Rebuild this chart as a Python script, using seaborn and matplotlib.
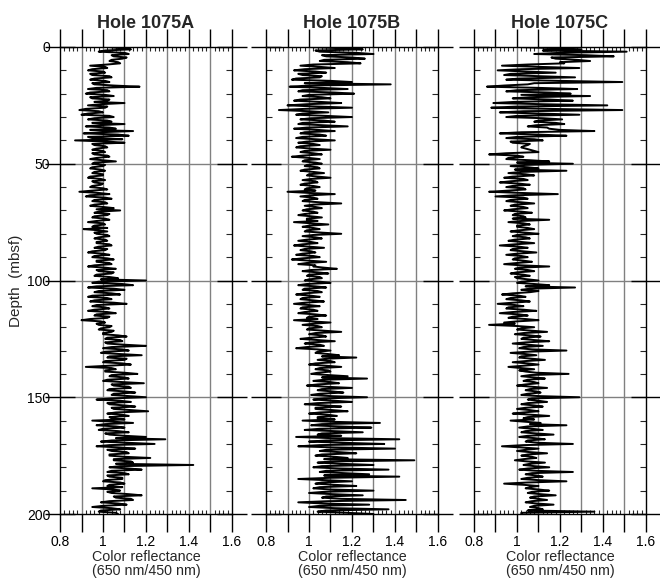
import numpy as np
import pandas as pd
import matplotlib
matplotlib.use("Agg")
import matplotlib.pyplot as plt
import seaborn as sns

# Depth samples (mbsf), one reading every half metre from 0 to 200 m
depth = [i * 0.5 for i in range(401)]

# Color reflectance ratio (650 nm / 450 nm), Hole 1075A; one row = 5 m
hole_a = [
    1.02, 1.08, 1.13, 1.01, 0.98, 1.10, 1.12, 1.04, 1.05, 1.11,
    1.09, 1.04, 1.03, 1.07, 1.08, 1.02, 0.94, 1.01, 1.02, 0.95,
    0.93, 1.00, 1.01, 0.94, 0.95, 1.03, 1.04, 0.96, 0.94, 1.01,
    1.03, 0.95, 0.96, 1.05, 1.17, 0.97, 0.93, 1.02, 1.03, 0.94,
    0.92, 1.01, 1.05, 0.94, 0.95, 1.03, 1.02, 0.96, 1.10, 0.99,
    0.93, 1.02, 1.01, 0.92, 0.89, 0.98, 1.00, 0.93, 0.90, 1.03,
    1.05, 0.96, 0.93, 1.02, 1.04, 0.95, 1.10, 0.98, 0.92, 1.03,
    1.06, 0.94, 1.14, 0.99, 0.91, 1.07, 1.12, 0.93, 0.95, 1.09,
    0.87, 1.02, 1.10, 0.95, 0.96, 1.01, 1.02, 0.97, 0.95, 1.00,
    1.01, 0.95, 0.96, 1.02, 1.03, 0.97, 0.94, 1.00, 1.06, 0.96,
    0.95, 1.01, 1.00, 0.95, 0.94, 0.99, 1.01, 0.96, 0.95, 1.00,
    1.00, 0.94, 0.93, 0.99, 1.01, 0.95, 0.96, 1.00, 0.99, 0.95,
    0.94, 1.00, 1.02, 0.95, 0.89, 0.98, 1.03, 0.94, 0.92, 1.01,
    1.04, 0.96, 0.95, 1.01, 1.02, 0.96, 0.94, 1.00, 1.05, 0.97,
    1.08, 0.98, 0.96, 1.03, 1.02, 0.96, 0.95, 1.01, 1.03, 0.97,
    0.93, 1.00, 1.01, 0.96, 0.95, 1.02, 0.91, 0.98, 1.02, 0.96,
    0.97, 1.02, 1.03, 0.98, 0.96, 1.01, 1.02, 0.97, 0.97, 1.03,
    1.04, 0.98, 0.96, 1.02, 1.01, 0.95, 0.93, 1.00, 1.03, 0.96,
    0.95, 1.02, 1.05, 0.97, 0.97, 1.03, 1.04, 0.96, 0.93, 1.01,
    1.06, 0.97, 0.98, 1.05, 1.04, 0.97, 0.96, 1.03, 1.07, 0.99,
    1.20, 0.98, 0.95, 1.09, 1.14, 0.97, 0.93, 1.05, 1.10, 0.98,
    0.96, 1.04, 1.08, 0.95, 0.93, 1.02, 1.04, 0.96, 0.94, 1.05,
    1.11, 0.97, 0.95, 1.01, 1.03, 0.96, 0.93, 1.02, 1.06, 0.97,
    0.96, 1.03, 1.02, 0.94, 0.90, 0.99, 1.01, 0.97, 0.98, 1.04,
    1.03, 0.99, 0.98, 1.05, 1.04, 1.00, 1.00, 1.07, 1.11, 1.02,
    1.01, 1.08, 1.09, 1.01, 1.02, 1.10, 1.20, 1.04, 1.00, 1.09,
    1.12, 1.01, 0.99, 1.08, 1.18, 1.03, 1.02, 1.11, 1.10, 1.01,
    1.00, 1.09, 1.13, 1.02, 0.92, 1.04, 1.06, 1.01, 1.01, 1.10,
    1.16, 1.04, 1.03, 1.10, 1.12, 1.02, 1.00, 1.09, 1.19, 1.04,
    1.05, 1.12, 1.13, 1.03, 1.02, 1.10, 1.15, 1.05, 1.04, 1.12,
    1.20, 1.04, 0.97, 1.08, 1.13, 1.02, 1.03, 1.10, 1.15, 1.04,
    1.05, 1.13, 1.21, 1.06, 1.02, 1.09, 1.12, 1.03, 1.04, 1.10,
    0.95, 1.05, 1.14, 1.01, 0.97, 1.06, 1.10, 1.00, 0.98, 1.07,
    1.12, 1.01, 1.03, 1.10, 1.20, 1.06, 1.29, 1.04, 0.99, 1.12,
    1.24, 1.03, 0.97, 1.08, 1.15, 1.02, 1.04, 1.11, 1.12, 1.03,
    1.03, 1.10, 1.22, 1.05, 1.05, 1.13, 1.14, 1.06, 1.42, 1.08,
    1.03, 1.12, 1.18, 1.04, 1.02, 1.10, 1.12, 1.02, 1.03, 1.09,
    1.09, 1.01, 1.00, 1.08, 1.10, 1.03, 1.02, 1.09, 0.95, 1.05,
    1.08, 1.02, 1.04, 1.12, 1.18, 1.05, 1.06, 1.13, 1.14, 1.03,
    0.99, 1.07, 1.11, 1.00, 0.95, 1.04, 1.08, 0.99, 0.98, 1.06,
    1.07,
]

# Hole 1075B
hole_b = [
    1.00, 1.14, 1.25, 1.03, 1.05, 1.22, 1.30, 1.06, 1.08, 1.20,
    1.26, 1.07, 1.05, 1.18, 1.24, 1.02, 0.96, 1.05, 1.12, 0.98,
    0.93, 1.03, 1.08, 0.95, 0.97, 1.06, 1.05, 0.94, 0.92, 1.10,
    1.20, 0.98, 1.38, 1.00, 0.91, 1.06, 1.18, 0.97, 0.95, 1.12,
    1.21, 1.00, 0.97, 1.06, 1.10, 0.96, 0.93, 1.05, 1.15, 0.99,
    0.90, 1.04, 1.20, 0.98, 0.86, 1.00, 1.09, 0.97, 0.94, 1.08,
    1.20, 1.01, 0.96, 1.07, 1.12, 0.97, 0.95, 1.06, 1.18, 0.99,
    0.93, 1.04, 1.12, 0.98, 0.96, 1.05, 1.08, 0.97, 0.94, 1.03,
    1.12, 0.99, 0.95, 1.02, 1.05, 0.96, 0.94, 1.01, 1.10, 0.98,
    0.96, 1.02, 1.06, 0.97, 0.92, 1.00, 1.05, 0.98, 0.97, 1.03,
    1.06, 0.99, 0.98, 1.04, 1.05, 0.98, 0.96, 1.02, 1.07, 1.00,
    0.99, 1.04, 1.10, 1.01, 0.97, 1.03, 1.04, 0.98, 0.96, 1.02,
    1.05, 0.99, 0.98, 1.03, 0.90, 1.00, 1.12, 1.01, 0.96, 1.02,
    1.04, 0.98, 0.97, 1.05, 1.15, 1.02, 0.98, 1.03, 1.06, 0.99,
    0.97, 1.02, 1.04, 0.98, 0.95, 1.01, 1.06, 0.99, 0.99, 1.04,
    0.93, 1.01, 1.09, 1.00, 0.97, 1.02, 1.05, 0.99, 0.98, 1.06,
    1.15, 1.02, 0.97, 1.03, 1.06, 0.99, 0.95, 1.01, 1.04, 0.97,
    0.93, 1.00, 1.07, 0.98, 0.96, 1.01, 1.03, 0.97, 0.94, 1.02,
    1.05, 0.97, 0.92, 1.00, 1.08, 0.99, 0.95, 1.03, 1.02, 1.07,
    1.13, 1.01, 0.97, 1.04, 1.09, 1.00, 0.99, 1.05, 1.06, 1.00,
    0.98, 1.05, 1.10, 0.99, 0.95, 1.03, 1.08, 0.98, 0.97, 1.04,
    1.06, 0.98, 0.94, 1.01, 1.05, 0.97, 0.96, 1.02, 1.07, 0.98,
    0.93, 1.00, 1.05, 0.97, 0.96, 1.02, 1.04, 0.98, 0.95, 1.03,
    1.08, 1.00, 0.99, 1.04, 0.93, 1.01, 1.10, 1.02, 0.97, 1.04,
    1.06, 1.00, 0.99, 1.07, 1.15, 1.03, 1.00, 1.06, 1.08, 1.01,
    0.96, 1.04, 1.12, 1.01, 0.98, 1.05, 1.07, 0.99, 0.94, 1.04,
    1.10, 1.04, 1.03, 1.09, 1.14, 1.06, 1.22, 1.08, 1.04, 1.10,
    1.12, 1.03, 1.00, 1.08, 1.15, 1.05, 1.03, 1.09, 1.10, 1.04,
    1.01, 1.09, 1.18, 1.06, 1.27, 1.07, 1.02, 1.10, 1.14, 1.04,
    0.99, 1.08, 1.20, 1.06, 1.04, 1.11, 1.16, 1.05, 1.01, 1.10,
    1.27, 1.07, 1.02, 1.12, 1.20, 1.04, 0.98, 1.08, 1.15, 1.03,
    1.03, 1.11, 1.18, 1.05, 1.00, 1.09, 1.13, 1.04, 1.04, 1.12,
    0.97, 1.10, 1.33, 1.06, 1.01, 1.14, 1.29, 1.05, 0.98, 1.12,
    1.25, 1.06, 1.04, 1.15, 0.94, 1.10, 1.42, 1.08, 1.00, 1.16,
    1.35, 1.05, 0.95, 1.12, 1.40, 1.08, 1.05, 1.14, 1.22, 1.06,
    1.03, 1.12, 1.18, 1.07, 1.49, 1.10, 1.04, 1.15, 1.30, 1.06,
    1.02, 1.14, 1.37, 1.08, 1.05, 1.16, 1.28, 1.07, 1.42, 1.10,
    0.95, 1.08, 1.20, 1.06, 1.03, 1.12, 1.22, 1.05, 1.02, 1.10,
    1.30, 1.07, 1.00, 1.11, 1.25, 1.08, 1.06, 1.15, 1.45, 1.09,
    0.95, 1.07, 1.28, 1.05, 1.00, 1.12, 1.37, 1.08, 1.04, 1.18,
    1.30,
]

# Hole 1075C
hole_c = [
    1.00, 1.18, 1.30, 1.12, 1.51, 1.20, 1.08, 1.32, 1.45, 1.16,
    1.18, 1.28, 1.34, 1.20, 1.22, 1.05, 0.93, 1.10, 1.29, 1.02,
    0.91, 1.05, 1.18, 0.97, 0.94, 1.10, 1.27, 1.01, 0.95, 1.20,
    1.49, 1.08, 1.05, 0.94, 0.86, 1.10, 1.28, 1.00, 0.95, 1.15,
    1.25, 1.02, 1.34, 1.06, 0.98, 1.15, 1.26, 0.99, 0.89, 1.12,
    1.42, 1.00, 0.88, 1.15, 1.49, 1.03, 0.92, 1.10, 1.29, 1.00,
    0.95, 1.12, 1.21, 1.10, 1.08, 1.18, 1.22, 1.09, 1.05, 1.14,
    1.15, 1.20, 1.36, 1.02, 0.92, 1.10, 1.23, 1.00, 0.95, 1.08,
    1.12, 0.97, 0.98, 1.06, 1.05, 1.03, 1.02, 1.04, 1.06, 1.08,
    1.10, 0.95, 0.87, 1.00, 1.03, 0.96, 0.95, 1.06, 1.15, 1.00,
    1.26, 1.04, 0.97, 1.05, 1.10, 0.99, 1.23, 1.02, 0.96, 1.04,
    1.08, 0.98, 0.94, 1.03, 1.05, 0.97, 0.92, 1.01, 1.06, 0.98,
    0.95, 1.03, 1.04, 0.96, 0.87, 1.02, 1.19, 0.99, 0.90, 1.03,
    1.05, 0.97, 0.95, 1.02, 1.08, 0.99, 0.97, 1.03, 1.05, 0.98,
    0.94, 1.02, 1.07, 0.99, 0.98, 1.03, 1.04, 0.98, 1.15, 1.02,
    0.96, 1.03, 1.06, 1.00, 1.00, 1.05, 1.08, 1.01, 0.97, 1.04,
    1.10, 1.00, 0.98, 1.04, 1.06, 0.99, 0.96, 1.02, 1.08, 0.99,
    0.92, 1.01, 1.05, 0.98, 0.97, 1.03, 1.09, 1.00, 0.95, 1.02,
    1.05, 0.99, 0.98, 1.03, 1.07, 1.00, 0.94, 1.02, 1.15, 1.01,
    0.99, 1.05, 1.08, 1.00, 0.97, 1.03, 1.06, 0.99, 1.00, 1.05,
    1.10, 1.02, 1.00, 1.08, 1.15, 1.04, 1.27, 1.06, 1.02, 1.10,
    1.06, 0.98, 0.93, 1.01, 1.04, 0.97, 0.95, 1.02, 1.06, 0.98,
    0.91, 0.99, 1.03, 0.96, 0.95, 1.03, 1.09, 0.98, 0.92, 1.01,
    1.05, 0.98, 0.96, 1.04, 1.10, 1.00, 0.94, 0.99, 0.87, 1.00,
    1.08, 1.02, 1.00, 1.07, 1.14, 1.03, 0.99, 1.06, 1.11, 1.03,
    1.02, 1.08, 1.15, 1.04, 0.98, 1.05, 1.12, 1.03, 1.01, 1.07,
    1.23, 1.05, 0.97, 1.04, 1.09, 1.02, 1.01, 1.07, 1.13, 1.04,
    0.98, 1.05, 1.10, 1.03, 0.96, 1.02, 1.08, 1.01, 1.04, 1.09,
    1.24, 1.06, 1.02, 1.08, 1.13, 1.05, 1.03, 1.08, 1.10, 1.04,
    1.00, 1.07, 1.14, 1.06, 1.04, 1.09, 1.11, 1.05, 1.02, 1.10,
    1.29, 1.07, 1.05, 1.10, 1.14, 1.05, 1.02, 1.08, 1.12, 1.04,
    1.00, 1.06, 1.10, 1.03, 0.98, 1.07, 1.15, 1.05, 1.03, 1.08,
    0.97, 1.04, 1.11, 1.06, 1.23, 1.05, 1.01, 1.07, 1.12, 1.04,
    1.02, 1.09, 1.17, 1.05, 1.01, 1.08, 1.13, 1.05, 1.04, 1.10,
    1.26, 1.03, 0.93, 1.02, 1.10, 1.04, 1.00, 1.06, 1.14, 1.05,
    1.02, 1.07, 1.09, 1.03, 0.99, 1.05, 1.13, 1.06, 1.03, 1.08,
    1.15, 1.05, 1.01, 1.09, 1.26, 1.07, 1.04, 1.09, 1.12, 1.05,
    1.02, 1.10, 1.23, 1.05, 0.94, 1.03, 1.10, 1.06, 1.04, 1.10,
    1.15, 1.07, 1.05, 1.11, 1.18, 1.08, 1.06, 1.10, 1.14, 1.07,
    1.04, 1.09, 1.17, 1.08, 1.06, 1.10, 1.12, 1.05, 1.36, 1.02,
    1.02,
]

titles = ["Hole 1075A", "Hole 1075B", "Hole 1075C"]
series = [hole_a, hole_b, hole_c]
x_ticks = [0.8, 0.9, 1.0, 1.1, 1.2, 1.3, 1.4, 1.5, 1.6]
x_labels = ["0.8", "", "1", "", "1.2", "", "1.4", "", "1.6"]
depth_ticks = [0, 50, 100, 150, 200]

sns.set_style("ticks")
plt.rcParams["font.family"] = ["Liberation Sans", "DejaVu Sans"]

W, H = 660, 579
fig = plt.figure(figsize=(W / 100, H / 100), dpi=100)

lefts = [60, 266, 474]
ax_w = 172
ax_top, ax_bot = 47, 514

for i, (left, title, vals) in enumerate(zip(lefts, titles, series)):
    ax = fig.add_axes([left / W, 1 - ax_bot / H, ax_w / W, (ax_bot - ax_top) / H])
    df = pd.DataFrame({"depth": depth, "ratio": vals})

    ax.set_xlim(0.8, 1.6)
    ax.set_ylim(200, 0)
    ax.set_axisbelow(False)

    # gray grid: every 0.1 in ratio, every 50 m in depth
    for xv in x_ticks[1:-1]:
        ax.axvline(xv, color="#808080", lw=1.0, zorder=1)
    for yv in depth_ticks[1:-1]:
        ax.axhline(yv, color="#808080", lw=1.0, zorder=1)

    sns.lineplot(data=df, x="ratio", y="depth", sort=False, estimator=None,
                 orient="y", color="black", lw=1.4, ax=ax, zorder=3)

    for s in ax.spines.values():
        s.set_visible(True)
        s.set_color("black")
        s.set_linewidth(1.0)
        s.set_zorder(4)

    ax.set_xticks(x_ticks)
    ax.set_xticklabels(x_labels)
    ax.set_xticks(np.arange(0.8, 1.6001, 0.02), minor=True)
    ax.tick_params(axis="x", which="major", direction="out", length=13, width=1.0,
                   top=True, bottom=True, labelsize=10, pad=2, colors="black")
    ax.tick_params(axis="x", which="minor", direction="in", length=3, width=0.8,
                   top=True, bottom=True)

    ax.set_yticks(depth_ticks)
    ax.set_yticks(np.arange(0, 201, 10), minor=True)
    ax.tick_params(axis="y", which="major", direction="inout", length=22, width=1.0,
                   left=True, right=True, labelsize=10, pad=-4, colors="black")
    ax.tick_params(axis="y", which="minor", direction="in", length=4, width=0.8,
                   left=True, right=True)

    if i == 0:
        ax.set_ylabel("Depth  (mbsf)", fontsize=11)
        ax.yaxis.set_label_coords(-0.215, 0.5)
    else:
        ax.set_ylabel("")
        ax.tick_params(axis="y", which="major", labelleft=False)

    ax.set_xlabel("Color reflectance\n(650 nm/450 nm)", fontsize=10.3, labelpad=1,
                  linespacing=1.0)
    ax.set_title(title, fontsize=13, fontweight="bold", pad=14)

fig.savefig("out.png", dpi=100)
